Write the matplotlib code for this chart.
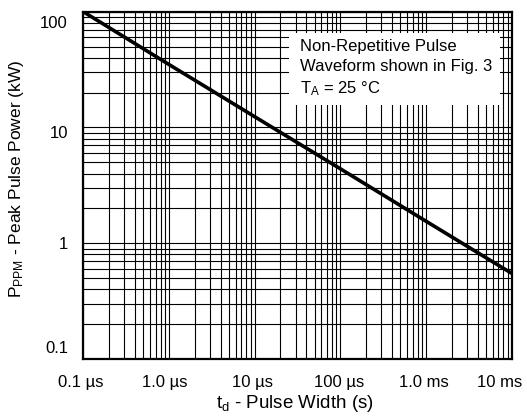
import matplotlib
matplotlib.use("Agg")
import matplotlib.pyplot as plt
import matplotlib.transforms as mtransforms
from matplotlib.patches import Rectangle

plt.rcParams["font.family"] = ["Liberation Sans", "DejaVu Sans"]
plt.rcParams["mathtext.default"] = "regular"

# Pulse width (s) vs peak pulse power (kW)
pulse_width = [1e-7, 1e-6, 1e-5, 1e-4, 1e-3, 1e-2]
peak_power = [100, 35, 12.4, 4.4, 1.55, 0.55]

x_ticks = [1e-7, 1e-6, 1e-5, 1e-4, 1e-3, 1e-2]
x_ticklabels = ["0.1 µs", "1.0 µs", "10 µs", "100 µs", "1.0 ms", "10 ms"]
y_ticks = [0.1, 1, 10, 100]
y_ticklabels = ["0.1", "1", "10", "100"]

note = "Non-Repetitive Pulse\nWaveform shown in Fig. 3\nT$_A$ = 25 °C"

fig = plt.figure(figsize=(5.27, 4.18), dpi=100)
ax = fig.add_axes([0.158, 0.141, 0.813, 0.831])

ax.set_xscale("log")
ax.set_yscale("log")
ax.set_xlim(1e-7, 1e-2)
ax.set_ylim(0.1, 100)

ax.grid(True, which="both", color="black", linewidth=0.8)
ax.set_axisbelow(True)
ax.tick_params(which="both", length=0)

ax.plot(pulse_width, peak_power, color="black", linewidth=2.6,
        solid_capstyle="butt", zorder=3)

ax.set_xticks(x_ticks)
ax.set_xticklabels(x_ticklabels, fontsize=12)
ax.set_yticks(y_ticks)
ax.set_yticklabels(y_ticklabels, fontsize=12)
ax.xaxis.set_minor_formatter(matplotlib.ticker.NullFormatter())
ax.yaxis.set_minor_formatter(matplotlib.ticker.NullFormatter())
ax.tick_params(axis="x", pad=11.5)
ax.tick_params(axis="y", pad=11)

# datasheet nudges labels inward at the ends
x_shift = [-3, -4, -2, -1, -2, -12]
for lbl, dx in zip(ax.get_xticklabels(), x_shift):
    lbl.set_transform(lbl.get_transform() +
                      mtransforms.ScaledTranslation(dx / 100, 0, fig.dpi_scale_trans))
y_shift = [12, 0, -5, -10]
for lbl, dy in zip(ax.get_yticklabels(), y_shift):
    lbl.set_transform(lbl.get_transform() +
                      mtransforms.ScaledTranslation(0, dy / 100, fig.dpi_scale_trans))

for s in ax.spines.values():
    s.set_linewidth(1.6)
    s.set_zorder(4)

ax.set_xlabel("t$_d$ - Pulse Width (s)", fontsize=13.5)
ax.xaxis.set_label_coords(0.495, -0.098)
ax.set_ylabel("P$_{PPM}$ - Peak Pulse Power (kW)", fontsize=12.5)
ax.yaxis.set_label_coords(-0.134, 0.52)

ax.add_patch(Rectangle((0.480, 0.731), 0.493, 0.208, transform=ax.transAxes,
                       facecolor="white", edgecolor="none", zorder=4.5))
ax.text(0.506, 0.92, note, transform=ax.transAxes, fontsize=12,
        va="top", ha="left", linespacing=1.38, zorder=5)

fig.savefig("out.png", dpi=100)
